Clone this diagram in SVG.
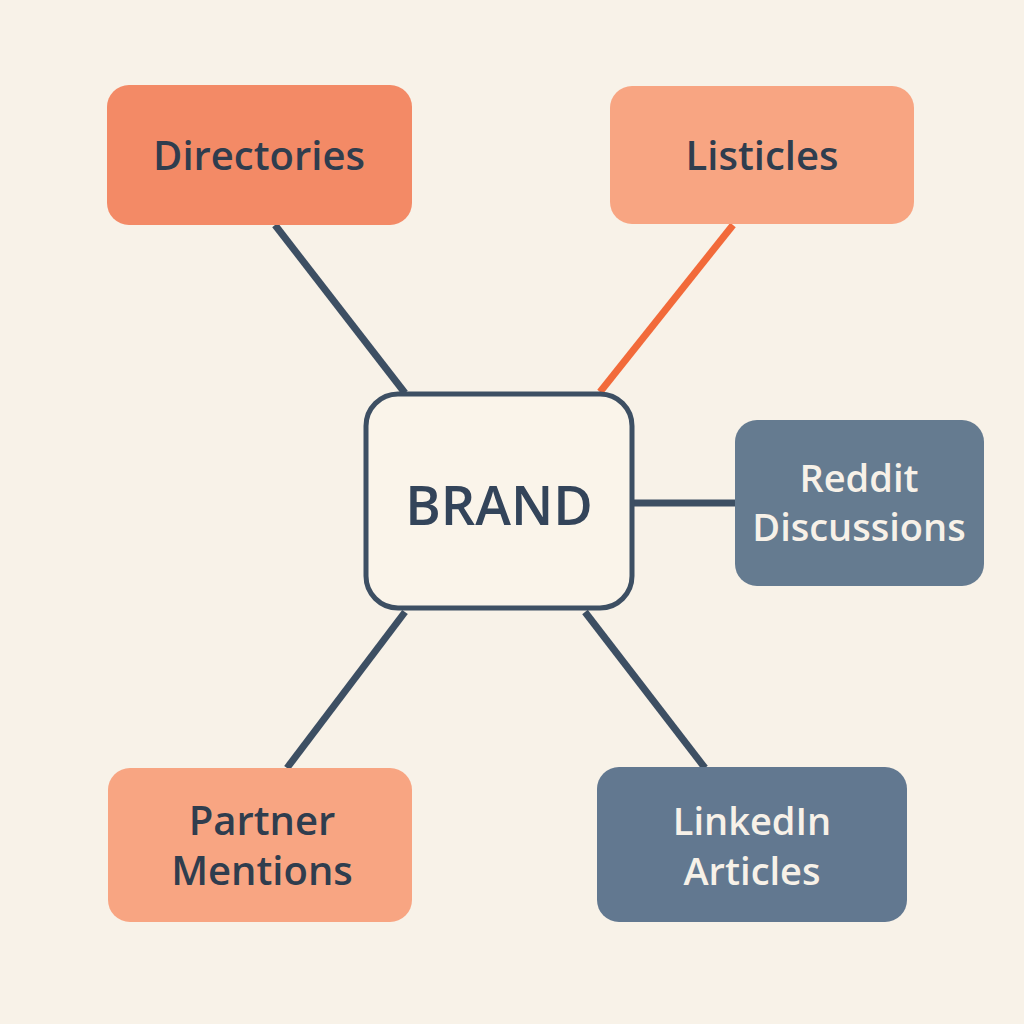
<svg xmlns="http://www.w3.org/2000/svg" width="1024" height="1024" viewBox="0 0 1024 1024">
<style>
.t{font-family:"Open Sans","Liberation Sans",sans-serif;font-weight:600;text-anchor:middle}
.d{fill:#2f3d4e;font-size:40px}
.w{fill:#f7f1e8;font-size:38px}
.c{stroke-width:7;stroke-linecap:butt;fill:none}
</style>
<rect width="1024" height="1024" fill="#f8f2e8"/>
<g id="connectors">
<line class="c" stroke="#3d4f63" x1="275" y1="225" x2="405" y2="393"/>
<line class="c" stroke="#f26a3a" x1="733" y1="225" x2="600" y2="392"/>
<line class="c" stroke="#3d4f63" x1="634" y1="503" x2="736" y2="503"/>
<line class="c" stroke="#3d4f63" x1="405" y1="612" x2="287" y2="768"/>
<line class="c" stroke="#3d4f63" x1="585" y1="612" x2="705" y2="768"/>
</g>
<g id="brand"><rect x="366" y="394" width="266" height="214" rx="32" fill="#faf4ea" stroke="#3d4f63" stroke-width="5"/>
<text class="t" x="499" y="525" font-size="54" font-weight="700" fill="#33445a">BRAND</text></g>
<g id="directories"><rect x="107" y="85" width="305" height="140" rx="22" fill="#f38a66"/>
<text class="t d" x="259" y="170">Directories</text></g>
<g id="listicles"><rect x="610" y="86" width="304" height="138" rx="22" fill="#f8a582"/>
<text class="t d" x="762" y="170">Listicles</text></g>
<g id="reddit"><rect x="735" y="420" width="249" height="166" rx="22" fill="#657b90"/>
<text class="t w" x="859" y="492">Reddit</text><text class="t w" x="859" y="541">Discussions</text></g>
<g id="partner"><rect x="108" y="768" width="304" height="154" rx="22" fill="#f8a582"/>
<text class="t d" x="262" y="835">Partner</text><text class="t d" x="262" y="885">Mentions</text></g>
<g id="linkedin"><rect x="597" y="767" width="310" height="155" rx="22" fill="#627890"/>
<text class="t w" x="752" y="835" font-size="40">LinkedIn</text><text class="t w" x="752" y="885" font-size="40">Articles</text></g>
</svg>
